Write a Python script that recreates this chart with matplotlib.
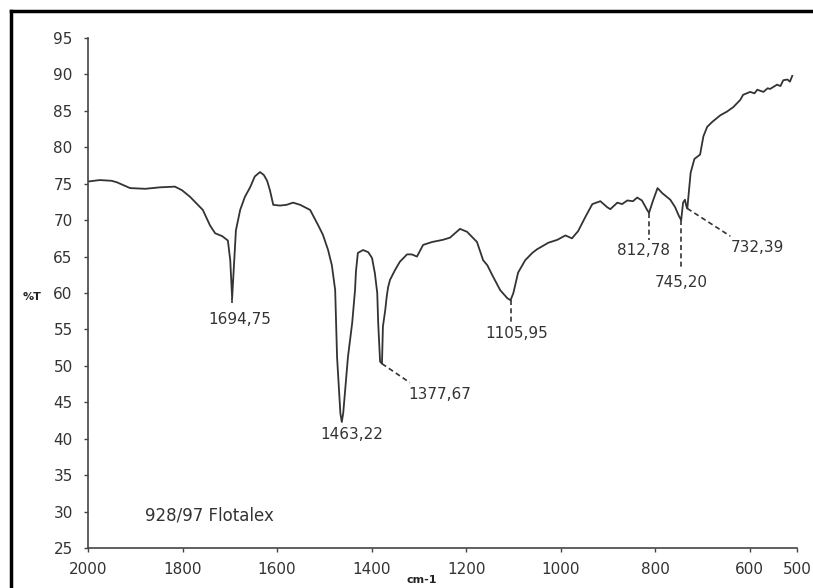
import matplotlib
matplotlib.use("Agg")
import matplotlib.pyplot as plt
from matplotlib.lines import Line2D


# ============================================
# Spectrum data
# ============================================

wavenumber = [
    2000, 1975, 1950, 1939, 1911, 1879, 1848, 1816, 1801, 1784,
    1757, 1742, 1731, 1716, 1704, 1699, 1695, 1691, 1687, 1678,
    1668, 1657, 1647, 1636, 1628, 1621, 1615, 1608, 1594, 1580,
    1566, 1551, 1530, 1513, 1503, 1492, 1484, 1477, 1473, 1466,
    1463, 1460, 1450, 1441, 1435, 1433, 1429, 1418, 1407, 1399,
    1393, 1388, 1386, 1382, 1378, 1376, 1371, 1368, 1365, 1361,
    1350, 1340, 1325, 1315, 1304, 1291, 1272, 1249, 1234, 1213,
    1198, 1177, 1164, 1155, 1145, 1128, 1113, 1106, 1100, 1090,
    1075, 1060, 1050, 1026, 1007, 990, 976, 963, 948, 933,
    916, 902, 895, 880, 870, 859, 847, 838, 828, 817,
    813, 805, 795, 785, 768, 758, 750, 745, 741, 737,
    734, 732, 725, 717, 711, 705, 698, 690, 679, 662,
    648, 635, 620, 614, 599, 590, 584, 571, 562, 557,
    542, 535, 529, 520, 515, 510,
]

transmittance = [
    75.3, 75.5, 75.4, 75.2, 74.4, 74.3, 74.5, 74.6, 74.1, 73.2,
    71.4, 69.3, 68.2, 67.8, 67.2, 64.5, 59.3, 64.0, 68.6, 71.4,
    73.2, 74.5, 76.0, 76.6, 76.2, 75.4, 74.1, 72.1, 72.0, 72.1,
    72.4, 72.1, 71.4, 69.3, 68.0, 65.9, 63.8, 60.4, 51.2, 43.5,
    42.3, 43.5, 51.2, 55.9, 60.4, 63.0, 65.5, 65.9, 65.6, 64.8,
    62.7, 60.0, 55.9, 50.6, 50.3, 55.4, 57.7, 59.5, 60.8, 61.8,
    63.2, 64.3, 65.3, 65.3, 65.0, 66.6, 67.0, 67.3, 67.6, 68.8,
    68.4, 67.0, 64.5, 63.8, 62.5, 60.4, 59.3, 59.0, 60.0, 62.8,
    64.5, 65.5, 66.0, 66.9, 67.3, 67.9, 67.5, 68.5, 70.4, 72.2,
    72.6, 71.8, 71.5, 72.4, 72.2, 72.7, 72.6, 73.1, 72.7, 71.4,
    71.0, 72.6, 74.4, 73.7, 72.8, 71.8, 70.6, 70.0, 72.4, 72.8,
    71.9, 71.6, 76.5, 78.4, 78.7, 79.0, 81.5, 82.8, 83.5, 84.4,
    84.9, 85.5, 86.5, 87.2, 87.6, 87.4, 87.9, 87.6, 88.1, 88.0,
    88.6, 88.4, 89.2, 89.3, 89.0, 89.8,
]

# labelled peaks
peak_labels = ["1694,75", "1463,22", "1377,67", "1105,95",
               "812,78", "745,20", "732,39"]
peak_x = [1695, 1463, 1378, 1106, 813, 745, 732]
peak_y = [59.3, 42.3, 50.3, 59.0, 71.0, 70.0, 71.6]

x_ticks = [2000, 1800, 1600, 1400, 1200, 1000, 800, 600, 500]
y_ticks = [25, 30, 35, 40, 45, 50, 55, 60, 65, 70, 75, 80, 85, 90, 95]

sample_name = "928/97 Flotalex"


# ============================================
# Figure
# ============================================

fig = plt.figure(figsize=(8.13, 5.88), dpi=100)
ax = fig.add_axes([0.1082, 0.068, 0.8721, 0.8674])

ax.plot(wavenumber, transmittance, color="#333333", linewidth=1.3)

ax.set_xlim(2000, 500)
ax.set_ylim(25, 95)
ax.set_xticks(x_ticks)
ax.set_yticks(y_ticks)

for side in ["top", "right"]:
    ax.spines[side].set_visible(False)
for side in ["left", "bottom"]:
    ax.spines[side].set_color("#444444")
    ax.spines[side].set_linewidth(1.2)

ax.tick_params(axis="both", direction="out", length=3, width=1.0,
               color="#444444", labelsize=11, labelcolor="#333333")
ax.tick_params(axis="y", pad=8)
ax.tick_params(axis="x", pad=7)


# ============================================
# Peak labels with dashed leaders
# (label centre, leader end) in data coords
# ============================================

label_pos = [(1678, 56.4), (1441, 40.6), (1255, 46.1), (1094, 54.5),
             (825, 65.9), (745, 61.5), (584, 66.3)]
leader_end = [(1695, 58.2), None, (1319, 47.7), (1106, 56.0),
              (813, 67.3), (745, 63.6), (641, 67.8)]

for i, text in enumerate(peak_labels):
    ax.text(label_pos[i][0], label_pos[i][1], text, ha="center",
            va="center", fontsize=11, color="#333333")
    if leader_end[i] is not None:
        ax.plot([peak_x[i], leader_end[i][0]],
                [peak_y[i], leader_end[i][1]],
                color="#333333", linewidth=1.2, linestyle=(0, (3, 2)))

ax.text(1742, 29.4, sample_name, ha="center", va="center",
        fontsize=12, color="#333333")

# axis titles as in the scan
fig.text(32 / 813, 1 - 297 / 588, "%T", ha="center", va="center",
         fontsize=8, fontweight="bold", color="#222222")
fig.text(422 / 813, 1 - 580 / 588, "cm-1", ha="center", va="center",
         fontsize=8, fontweight="bold", color="#222222")

# outer frame of the scanned page
fig.add_artist(Line2D([11 / 813, 11 / 813], [0, 1 - 11 / 588],
                      transform=fig.transFigure, color="black",
                      linewidth=2.5))
fig.add_artist(Line2D([11 / 813, 1], [1 - 11 / 588, 1 - 11 / 588],
                      transform=fig.transFigure, color="black",
                      linewidth=2.5))

fig.savefig("out.png", dpi=100)
plt.close(fig)
